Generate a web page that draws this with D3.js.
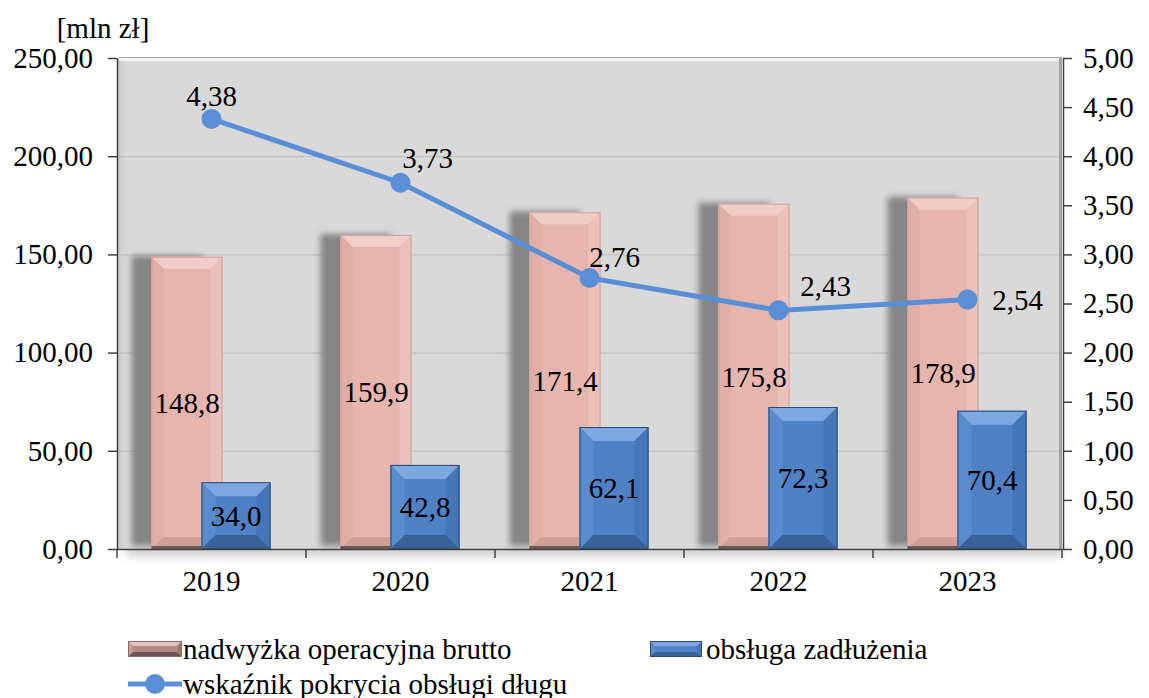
<!DOCTYPE html>
<html>
<head>
<meta charset="utf-8">
<script src="https://cdn.jsdelivr.net/npm/d3@7"></script>
<style>
  body { margin: 0; background: #fff; }
  svg text { font-family: "Liberation Serif", "Times New Roman", Times, "DejaVu Serif", serif; fill: #000; }
</style>
</head>
<body>
<svg width="1149" height="698"></svg>
<script>
// dane
var years = ['2019', '2020', '2021', '2022', '2023']
var nadwyzka = [148.8, 159.9, 171.4, 175.8, 178.9]
var obsluga = [34.0, 42.8, 62.1, 72.3, 70.4]
var wskaznik = [4.38, 3.73, 2.76, 2.43, 2.54]
var leftTicks = [0, 50, 100, 150, 200, 250]
var rightTicks = [0, 0.5, 1, 1.5, 2, 2.5, 3, 3.5, 4, 4.5, 5]

// przesuniecia etykiet linii (dx, dy)
var lineLabelOff = [[0, -23], [27, -25], [25, -21], [47, -25], [50, 0]]

var pl = d3.formatLocale({decimal: ',', thousands: ' ', grouping: [3], currency: ['', '']})
var f1 = pl.format('.1f'), f2 = pl.format('.2f')

var svg = d3.select('svg')
var pLeft = 117, pRight = 1062, pTop = 58, pBottom = 549
var fs = 29
var serif = '"Liberation Serif", "Times New Roman", Times, "DejaVu Serif", serif'

var x = d3.scaleBand().domain(years).range([pLeft, pRight])
var yL = d3.scaleLinear().domain([0, 250]).range([pBottom, pTop])
var yR = d3.scaleLinear().domain([0, 5]).range([pBottom, pTop])

var defs = svg.append('defs')
var blur = defs.append('filter').attr('id', 'blur').attr('x', '-50%').attr('y', '-20%').attr('width', '200%').attr('height', '140%')
blur.append('feGaussianBlur').attr('stdDeviation', 3)
var blur2 = defs.append('filter').attr('id', 'blur2').attr('x', '-20%').attr('y', '-50%').attr('width', '140%').attr('height', '200%')
blur2.append('feGaussianBlur').attr('stdDeviation', 4)

var wallL = defs.append('linearGradient').attr('id', 'wallLeft')
wallL.append('stop').attr('offset', '0%').attr('stop-color', '#c8c8c8')
wallL.append('stop').attr('offset', '100%').attr('stop-color', '#d9d9d9')

// cien pod sciana
svg.append('rect')
    .attr('x', pLeft + 10).attr('y', pBottom - 4)
    .attr('width', pRight - pLeft - 10).attr('height', 12)
    .attr('fill', '#9a9a9a').attr('opacity', 0.45)
    .attr('filter', 'url(#blur2)')

// sciana tla
svg.append('rect')
    .attr('x', pLeft).attr('y', pTop)
    .attr('width', pRight - pLeft).attr('height', pBottom - pTop)
    .attr('fill', '#d9d9d9')
svg.append('rect')
    .attr('x', pLeft).attr('y', pTop)
    .attr('width', 9).attr('height', pBottom - pTop)
    .attr('fill', 'url(#wallLeft)')
svg.append('line')
    .attr('x1', pLeft + 2).attr('x2', pRight - 2).attr('y1', pTop + 1.5).attr('y2', pTop + 1.5)
    .attr('stroke', '#f4f4f4').attr('stroke-width', 3)
svg.append('line')
    .attr('x1', pLeft + 2).attr('x2', pRight).attr('y1', pTop - 0.5).attr('y2', pTop - 0.5)
    .attr('stroke', '#a6a6a6').attr('stroke-width', 1)
svg.append('line')
    .attr('x1', pRight - 1.5).attr('x2', pRight - 1.5).attr('y1', pTop).attr('y2', pBottom)
    .attr('stroke', '#a3a3a3').attr('stroke-width', 3)

// siatka
svg.append('g')
    .selectAll('line')
    .data(leftTicks.slice(1, -1))
    .enter()
    .append('line')
    .attr('x1', pLeft).attr('x2', pRight - 3)
    .attr('y1', function(d) { return yL(d) + 0.5 })
    .attr('y2', function(d) { return yL(d) + 0.5 })
    .attr('stroke', '#bdbdbd').attr('stroke-width', 1)

var bw = 71
var pinkX = function(d) { return x(d) + x.bandwidth() / 2 - 60 }
var blueX = function(d) { return x(d) + x.bandwidth() / 2 - 10 }

// cienie slupkow
svg.append('g')
    .selectAll('rect')
    .data(years)
    .enter()
    .append('rect')
    .attr('x', function(d) { return pinkX(d) - 20 })
    .attr('y', function(d, i) { return yL(nadwyzka[i]) - 1 })
    .attr('width', bw)
    .attr('height', function(d, i) { return pBottom - yL(nadwyzka[i]) - 2 })
    .attr('fill', '#858585')
    .attr('filter', 'url(#blur)')

function bevelBar(g, bx, by, w, h, b, c) {
    g.append('rect').attr('x', bx).attr('y', by).attr('width', w).attr('height', h).attr('fill', c.face)
    var pts = [
        [[bx, by], [bx + w, by], [bx + w - b, by + b], [bx + b, by + b], c.top],
        [[bx, by], [bx + b, by + b], [bx + b, by + h - b], [bx, by + h], c.left],
        [[bx + w, by], [bx + w - b, by + b], [bx + w - b, by + h - b], [bx + w, by + h], c.right],
        [[bx, by + h], [bx + b, by + h - b], [bx + w - b, by + h - b], [bx + w, by + h], c.bottom]
    ]
    pts.forEach(function(p) {
        g.append('polygon')
            .attr('points', p.slice(0, 4).map(function(q) { return q.join(',') }).join(' '))
            .attr('fill', p[4])
    })
    g.append('rect').attr('x', bx + 0.5).attr('y', by + 0.5).attr('width', w - 1).attr('height', h - 1)
        .attr('fill', 'none').attr('stroke', c.stroke).attr('stroke-width', 1)
}

var pinkCol = {face: '#e5b5ae', top: '#f2cdc7', left: '#e0aea7', right: '#ecc1bb', bottom: '#cf9f98', stroke: '#cfa39d'}
var blueCol = {face: '#4f81c4', top: '#7ea8e0', left: '#5a8bcd', right: '#4576b8', bottom: '#3a6299', stroke: '#2b4a74'}

var gPink = svg.append('g')
years.forEach(function(d, i) {
    var h = pBottom - yL(nadwyzka[i])
    bevelBar(gPink, pinkX(d), yL(nadwyzka[i]), bw, h, 12, pinkCol)
})
// ciemna podstawa slupkow
svg.append('g')
    .selectAll('line')
    .data(years)
    .enter()
    .append('line')
    .attr('x1', function(d) { return pinkX(d) }).attr('x2', function(d) { return pinkX(d) + bw + 4 })
    .attr('y1', pBottom - 1.5).attr('y2', pBottom - 1.5)
    .attr('stroke', '#6e5856').attr('stroke-width', 3)

var gBlue = svg.append('g')
years.forEach(function(d, i) {
    var h = pBottom - yL(obsluga[i])
    bevelBar(gBlue, blueX(d), yL(obsluga[i]), 69, h, 14, blueCol)
})

// etykiety slupkow
svg.append('g')
    .selectAll('text')
    .data(years)
    .enter()
    .append('text')
    .attr('x', function(d) { return pinkX(d) + bw / 2 })
    .attr('y', function(d, i) { return yL(nadwyzka[i] / 2) })
    .attr('dy', '0.35em')
    .attr('text-anchor', 'middle')
    .style('font-size', fs + 'px')
    .text(function(d, i) { return f1(nadwyzka[i]) })

svg.append('g')
    .selectAll('text')
    .data(years)
    .enter()
    .append('text')
    .attr('x', function(d) { return blueX(d) + 34.5 })
    .attr('y', function(d, i) { return yL(obsluga[i] / 2) })
    .attr('dy', '0.35em')
    .attr('text-anchor', 'middle')
    .style('font-size', fs + 'px')
    .text(function(d, i) { return f1(obsluga[i]) })

// osie
var axL = svg.append('g')
    .attr('transform', 'translate(' + pLeft + ',0)')
    .call(d3.axisLeft(yL).tickValues(leftTicks).tickFormat(f2).tickSize(9).tickSizeOuter(0).tickPadding(15))
var axR = svg.append('g')
    .attr('transform', 'translate(' + (pRight + 1) + ',0)')
    .call(d3.axisRight(yR).tickValues(rightTicks).tickFormat(f2).tickSize(9).tickSizeOuter(0).tickPadding(11))
var axB = svg.append('g')
    .attr('transform', 'translate(0,' + pBottom + ')')
    .call(d3.axisBottom(x).tickSize(0).tickPadding(21))
;[axL, axR, axB].forEach(function(a) {
    a.attr('font-family', serif)
    a.selectAll('path.domain').attr('stroke', '#404040').attr('stroke-width', 1.5)
    a.selectAll('line').attr('stroke', '#404040').attr('stroke-width', 1.5)
    a.selectAll('text').style('font-size', fs + 'px').style('font-family', serif).attr('fill', '#000')
})
axB.selectAll('text').attr('dy', '0.71em')

var bounds = years.map(function(d) { return x(d) }).concat([x(years[years.length - 1]) + x.bandwidth()])
svg.append('g')
    .selectAll('line')
    .data(bounds)
    .enter()
    .append('line')
    .attr('x1', function(d) { return d }).attr('x2', function(d) { return d })
    .attr('y1', pBottom).attr('y2', pBottom + 9)
    .attr('stroke', '#404040').attr('stroke-width', 1.5)

// linia wskaznika
var cx = function(d) { return x(d) + x.bandwidth() / 2 }
var line = d3.line()
    .x(function(d, i) { return cx(years[i]) })
    .y(function(d) { return yR(d) })
svg.append('path')
    .datum(wskaznik)
    .attr('d', line)
    .attr('fill', 'none')
    .attr('stroke', '#5a8fd8')
    .attr('stroke-width', 5)
svg.append('g')
    .selectAll('circle')
    .data(wskaznik)
    .enter()
    .append('circle')
    .attr('cx', function(d, i) { return cx(years[i]) })
    .attr('cy', function(d) { return yR(d) })
    .attr('r', 10)
    .attr('fill', '#5a8fd8')
svg.append('g')
    .selectAll('text')
    .data(wskaznik)
    .enter()
    .append('text')
    .attr('x', function(d, i) { return cx(years[i]) + lineLabelOff[i][0] })
    .attr('y', function(d, i) { return yR(d) + lineLabelOff[i][1] })
    .attr('dy', '0.35em')
    .attr('text-anchor', 'middle')
    .style('font-size', fs + 'px')
    .text(function(d) { return f2(d) })

// jednostka
svg.append('text')
    .attr('x', 103).attr('y', 28).attr('dy', '0.35em')
    .attr('text-anchor', 'middle')
    .style('font-size', fs + 'px')
    .text('[mln zł]')

// legenda
var lg = svg.append('g')
bevelBar(lg, 128, 641, 54, 16, 5, {face: '#b08a86', top: '#e8c0ba', left: '#c49e99', right: '#9c7874', bottom: '#6e5553', stroke: '#8c6c69'})
lg.append('text').attr('x', 183).attr('y', 649).attr('dy', '0.35em').style('font-size', fs + 'px').text('nadwyżka operacyjna brutto')
bevelBar(lg, 650, 641, 52, 16, 5, blueCol)
lg.append('text').attr('x', 706).attr('y', 649).attr('dy', '0.35em').style('font-size', fs + 'px').text('obsługa zadłużenia')
lg.append('line').attr('x1', 128).attr('x2', 182).attr('y1', 684).attr('y2', 684)
    .attr('stroke', '#5a8fd8').attr('stroke-width', 5)
lg.append('circle').attr('cx', 155).attr('cy', 684).attr('r', 10).attr('fill', '#5a8fd8')
lg.append('text').attr('x', 183).attr('y', 684).attr('dy', '0.33em').style('font-size', fs + 'px').text('wskaźnik pokrycia obsługi długu')
</script>
</body>
</html>
